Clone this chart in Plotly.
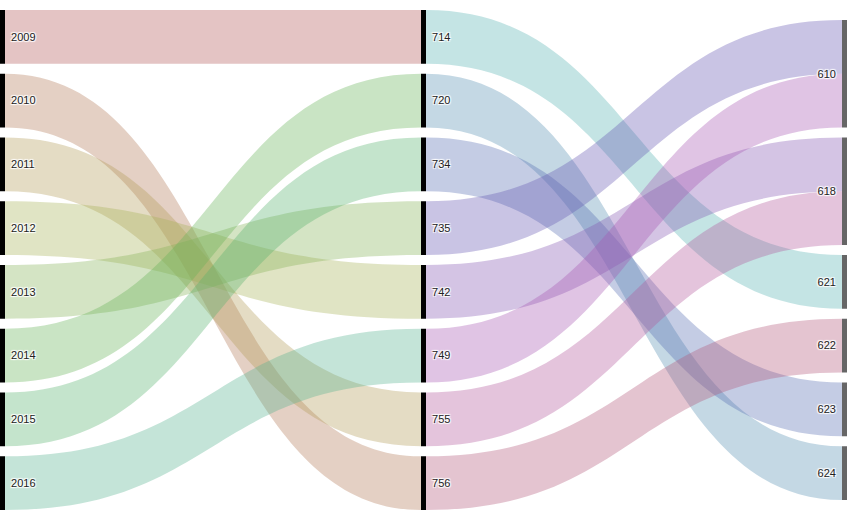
import plotly.graph_objects as go

# Node labels (years, middle codes, right codes)
years = ["2009", "2010", "2011", "2012", "2013", "2014", "2015", "2016"]
mid_codes = ["714", "720", "734", "735", "742", "749", "755", "756"]
right_codes = ["610", "618", "621", "622", "623", "624"]

# Flows: year -> middle code
year_to_mid_src = ["2009", "2010", "2011", "2012", "2013", "2014", "2015", "2016"]
year_to_mid_tgt = ["714", "756", "755", "742", "735", "720", "734", "749"]
year_to_mid_val = [1, 1, 1, 1, 1, 1, 1, 1]

# Flows: middle code -> right code
mid_to_right_src = ["714", "720", "734", "735", "742", "749", "755", "756"]
mid_to_right_tgt = ["621", "624", "623", "610", "618", "610", "618", "622"]
mid_to_right_val = [1, 1, 1, 1, 1, 1, 1, 1]

W, H = 847, 520
MT, MB = 10, 10
PAD = 10
THICK = 5

labels = years + mid_codes + right_codes
idx = {lab: i for i, lab in enumerate(labels)}

src_all = year_to_mid_src + mid_to_right_src
tgt_all = year_to_mid_tgt + mid_to_right_tgt
values = year_to_mid_val + mid_to_right_val
sources = [idx[s] for s in src_all]
targets = [idx[t] for t in tgt_all]

# node values (max of in/out flow), used to keep the column order
node_in = {lab: 0 for lab in labels}
node_out = {lab: 0 for lab in labels}
for s, t, v in zip(src_all, tgt_all, values):
    node_out[s] += v
    node_in[t] += v
node_val = {lab: max(node_in[lab], node_out[lab]) for lab in labels}

columns = [years, mid_codes, right_codes]
plot_h = H - MT - MB
ky = min((plot_h - (len(col) - 1) * PAD) / sum(node_val[n] for n in col) for col in columns)

node_x = [0.0] * len(labels)
node_y = [0.0] * len(labels)
col_x = [(THICK / 2) / W, 0.5, 1 - (THICK / 2) / W]
for ci, col in enumerate(columns):
    total = sum(node_val[n] for n in col) * ky + (len(col) - 1) * PAD
    y = (plot_h - total) / 2
    for n in col:
        h = node_val[n] * ky
        node_x[idx[n]] = col_x[ci]
        node_y[idx[n]] = (y + h / 2) / plot_h
        y += h + PAD

# displayed labels: a little extra gap between node bar and text
NB = "\u00a0"
display_labels = [NB + l for l in years + mid_codes] + [l + NB for l in right_codes]

n_links = len(values)
link_colors = [f"hsla({i * 360 / n_links:.1f}, 37%, 52%, 0.35)" for i in range(n_links)]
node_colors = ["#000000"] * (len(years) + len(mid_codes)) + ["#666666"] * len(right_codes)

fig = go.Figure(go.Sankey(
    arrangement="fixed",
    node=dict(
        label=display_labels,
        color=node_colors,
        thickness=THICK,
        pad=PAD,
        x=node_x,
        y=node_y,
        line=dict(width=0),
    ),
    link=dict(
        source=sources,
        target=targets,
        value=values,
        color=link_colors,
    ),
    textfont=dict(family="Arial, Liberation Sans, sans-serif", size=11, color="#222222"),
))

fig.update_layout(
    width=W,
    height=H,
    margin=dict(l=0, r=0, t=MT, b=MB),
    paper_bgcolor="white",
    plot_bgcolor="white",
)

fig.write_html(
    "out.html",
    config={"displayModeBar": False},
    post_script="document.body.style.margin='0';document.body.style.overflow='hidden';",
)
